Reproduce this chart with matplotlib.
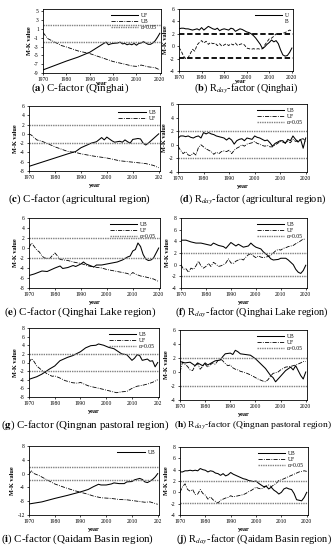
import matplotlib
matplotlib.use("Agg")
import matplotlib.pyplot as plt
from matplotlib.lines import Line2D

plt.rcParams["font.family"] = ["Liberation Serif", "DejaVu Serif"]
plt.rcParams["mathtext.fontset"] = "stix"
plt.rcParams["axes.unicode_minus"] = False

YEARS = list(range(1970, 2021))

# (a) C-factor (Qinghai)
a_uf_years = [1970, 1975, 1980, 1985, 1990, 1993, 1996, 1997, 1998, 1999, 2000, 2002, 2003, 2004,
              2005, 2006, 2007, 2008, 2009, 2010, 2011, 2012, 2013, 2014, 2015, 2016, 2017, 2018, 2019, 2020]
a_uf = [-8.3, -7.3, -6.3, -5.4, -4.3, -3.3, -2.3, -2.0, -2.6, -2.4, -2.3, -2.2, -2.0, -2.4,
        -2.3, -2.6, -2.4, -2.6, -2.3, -2.7, -2.3, -2.2, -1.9, -2.2, -2.5, -2.5, -2.2, -1.7, -0.9, 0.0]
a_ub_years = [1970, 1972, 1975, 1978, 1980, 1985, 1990, 1995, 2000, 2005, 2008, 2010, 2012, 2015, 2018, 2020]
a_ub = [0.2, -1.2, -2.0, -2.8, -3.1, -4.0, -4.6, -5.5, -6.4, -7.0, -7.4, -7.5, -7.2, -7.6, -7.8, -8.3]

# (b) Rday-factor (Qinghai)
b_ub = [2.8, 2.9, 2.9, 2.8, 2.8, 2.7, 2.6, 2.7, 2.8, 2.6,
        3.0, 2.6, 2.9, 3.2, 3.0, 2.8, 2.7, 2.9, 2.5, 2.7,
        2.8, 2.7, 2.6, 2.9, 2.8, 2.4, 2.6, 2.8, 2.7, 2.5,
        2.3, 2.2, 2.0, 1.7, 1.3, 0.8, 0.3, -0.4, -0.1, 0.3,
        0.6, 1.0, 0.7, 0.9, 0.4, -0.6, -1.4, -1.6, -1.5, -1.0,
        -0.3]
b_uf = [-0.2, -0.8, -1.6, -2.0, -1.9, -1.2, -0.5, -0.8, 0.2, 0.6,
        0.9, 0.5, 0.8, 0.3, 0.6, 0.4, 0.5, 0.1, 0.4, 0.0,
        0.2, 0.4, 0.1, 0.4, 0.2, 0.5, 0.1, 0.3, 0.4, 0.2,
        -0.3, -0.4, -0.5, -0.4, -0.5, -0.4, -0.5, -0.4, 0.2, 0.7,
        1.2, 1.3, 1.6, 2.0, 1.8, 2.0, 2.1, 2.2, 2.4, 2.6,
        2.5]

# (c) C-factor (agricultural region)
c_ub_years = [1970, 1975, 1980, 1985, 1988, 1990, 1994, 1996, 1998, 1999, 2000, 2002, 2003, 2005,
              2006, 2007, 2008, 2009, 2010, 2012, 2013, 2014, 2015, 2016, 2017, 2019, 2020]
c_ub = [-7.0, -6.1, -5.2, -4.3, -3.8, -3.0, -2.0, -1.7, -0.8, -1.3, -0.7, -1.5, -1.8, -1.6,
        -1.8, -1.3, -1.7, -2.0, -1.2, -1.0, -1.1, -2.0, -2.4, -2.0, -1.5, -0.5, 0.0]
c_uf_years = [1970, 1971, 1973, 1975, 1978, 1980, 1982, 1985, 1988, 1990, 1995, 2000, 2005, 2010, 2015, 2018, 2020]
c_uf = [0.0, -0.3, -1.3, -1.6, -2.3, -2.8, -3.2, -3.8, -4.0, -4.3, -4.8, -5.2, -5.8, -6.1, -6.4, -6.8, -7.3]

# (d) Rday-factor (agricultural region)
d_ub = [1.0, 1.3, 1.3, 1.2, 1.3, 1.1, 1.0, 1.2, 1.3, 1.0,
        1.8, 1.6, 1.8, 1.6, 1.5, 1.3, 1.2, 1.1, 1.0, 0.7,
        1.0, 0.7, 0.1, 0.6, 0.8, 0.9, 0.6, 1.0, 0.9, 0.8,
        1.3, 1.1, 1.0, 0.8, 0.6, 0.7, 0.3, -0.2, 0.2, 0.4,
        0.6, 0.6, 0.2, 0.8, 0.6, 1.3, 0.8, 0.4, 0.8, -0.5,
        1.0]
d_uf = [-0.2, -0.8, -1.3, -1.0, -1.5, -1.6, -1.2, -1.5, -0.4, 0.0,
        -0.3, -0.6, -0.8, -1.0, -1.4, -1.1, -1.3, -1.0, -0.9, -1.0,
        -0.8, -1.3, -0.8, -0.5, -0.3, 0.0, -0.2, 0.1, 0.2, 0.3,
        0.5, 0.2, 0.1, -0.1, -0.2, -0.1, -0.3, -0.3, 0.0, 0.2,
        0.5, 0.4, 0.3, 0.5, 0.3, 0.8, 0.5, 0.6, 0.8, 0.9,
        0.5]

# (e) C-factor (Qinghai Lake region)
e_ub_years = [1970, 1972, 1975, 1977, 1980, 1982, 1983, 1985, 1987, 1988, 1990, 1991, 1992, 1994, 1995,
              1996, 1998, 2000, 2002, 2004, 2006, 2008, 2009, 2010, 2011, 2012, 2013, 2014, 2015, 2016,
              2017, 2018, 2019, 2020]
e_ub = [-5.5, -5.2, -4.6, -4.7, -4.0, -3.6, -4.1, -3.9, -3.5, -3.7, -3.2, -2.8, -3.2, -3.6, -3.8,
        -3.4, -3.4, -3.2, -3.0, -2.8, -2.4, -1.8, -1.6, -0.6, -0.3, 1.0, 0.3, -1.3, -2.2, -2.5,
        -2.4, -2.0, -1.0, 0.0]
e_uf_years = [1970, 1971, 1972, 1973, 1974, 1975, 1976, 1978, 1979, 1980, 1981, 1982, 1985, 1987, 1990,
              1993, 1995, 1998, 2000, 2003, 2005, 2008, 2009, 2010, 2011, 2013, 2015, 2018, 2020]
e_uf = [0.1, 1.0, 0.3, -0.4, -0.8, -1.6, -2.0, -2.1, -1.5, -1.0, -1.6, -2.3, -2.5, -2.8, -3.1,
        -3.6, -3.8, -4.0, -4.3, -4.6, -4.8, -5.1, -5.4, -4.9, -5.2, -5.6, -5.8, -6.2, -6.7]

# (f) Rday-factor (Qinghai Lake region)
f_ub_years = [1970, 1972, 1974, 1976, 1978, 1980, 1982, 1983, 1985, 1987, 1988, 1990, 1991, 1992, 1993,
              1995, 1997, 1998, 1999, 2000, 2002, 2003, 2005, 2006, 2007, 2009, 2010, 2012, 2013, 2015,
              2016, 2017, 2018, 2019, 2020]
f_ub = [4.2, 4.2, 3.9, 3.7, 3.7, 3.5, 3.3, 3.7, 3.3, 3.1, 2.8, 3.8, 3.5, 3.2, 3.5,
        3.0, 3.2, 3.7, 3.3, 3.0, 2.7, 2.2, 1.5, 1.0, 0.8, 0.9, 1.1, 1.1, 0.8, 0.0,
        -0.8, -1.3, -1.5, -1.0, -0.1]
f_uf = [0.0, -0.8, -0.7, -1.3, -0.6, -0.8, -0.2, 0.6, -0.2, -0.6,
        -0.3, 0.2, -0.3, 0.4, 0.1, -0.3, -0.2, 0.0, 0.3, 1.0,
        0.3, 0.2, 0.6, 0.8, 1.0, 0.8, 1.3, 1.7, 1.9, 1.5,
        1.2, 1.5, 1.3, 1.2, 1.3, 1.4, 1.6, 2.0, 2.4, 2.6,
        2.5, 2.8, 2.9, 3.1, 3.2, 3.3, 3.6, 3.8, 4.1, 4.4,
        4.3]

# (g) C-factor (Qingnan pastoral region)
g_ub_years = [1970, 1973, 1975, 1978, 1980, 1982, 1985, 1987, 1990, 1992, 1994, 1996, 1997, 1999, 2001,
              2003, 2005, 2006, 2008, 2010, 2011, 2012, 2013, 2014, 2016, 2017, 2018, 2019, 2020]
g_ub = [-3.9, -3.3, -2.7, -1.5, -0.8, 0.4, 1.2, 1.6, 2.5, 3.4, 3.9, 4.0, 4.3, 4.0, 3.5,
        3.2, 2.4, 2.0, 1.8, 0.5, 1.0, 1.8, 1.6, 0.5, 0.8, 0.3, 0.4, -1.0, 0.0]
g_uf_years = [1970, 1971, 1972, 1973, 1975, 1977, 1979, 1980, 1982, 1984, 1987, 1989, 1990, 1991, 1993,
              1995, 1998, 2000, 2002, 2004, 2006, 2008, 2010, 2012, 2014, 2016, 2018, 2020]
g_uf = [0.0, 0.9, 0.2, -0.8, -1.8, -2.6, -3.2, -3.1, -3.6, -4.2, -4.7, -4.8, -4.6, -4.9, -5.4,
        -5.7, -6.1, -6.4, -6.7, -7.0, -6.8, -6.7, -6.0, -5.5, -5.3, -5.0, -4.6, -4.0]

# (h) Rday-factor (Qingnan pastoral region)
h_ub_years = [1970, 1972, 1974, 1976, 1977, 1979, 1980, 1981, 1983, 1984, 1986, 1987, 1988, 1990, 1991,
              1992, 1993, 1994, 1996, 1998, 2000, 2002, 2004, 2005, 2006, 2007, 2008, 2009, 2010, 2012,
              2014, 2015, 2016, 2017, 2018, 2019, 2020]
h_ub = [1.5, 1.3, 1.4, 0.9, 1.3, 0.9, 1.3, 1.0, 1.4, 1.6, 1.7, 2.2, 2.6, 2.7, 2.5,
        3.1, 2.9, 2.6, 2.5, 2.4, 1.9, 1.2, 0.5, 0.0, -0.5, -0.8, -1.4, -1.0, -0.6, 0.2,
        0.7, 0.3, 0.9, 0.2, -0.5, -1.0, 0.0]
h_uf_years = [1970, 1971, 1972, 1973, 1974, 1975, 1976, 1977, 1978, 1979, 1980, 1981, 1982, 1983, 1984,
              1985, 1986, 1987, 1988, 1989, 1990, 1991, 1992, 1993, 1994, 1996, 1998, 2000, 2001, 2003,
              2004, 2005, 2006, 2007, 2008, 2009, 2010, 2012, 2014, 2016, 2018, 2019, 2020]
h_uf = [0.0, 1.4, 1.1, 0.8, 0.3, 0.2, 0.9, 1.2, 0.4, 0.8, 1.1, 0.7, 1.0, 1.3, 1.1,
        1.6, 1.9, 1.6, 1.2, 0.9, 1.0, 0.6, 0.4, 0.3, 0.1, -0.1, -0.4, -0.8, -1.0, -1.3,
        -1.4, -1.1, -0.6, -0.2, -0.1, 0.0, 0.3, 0.7, 0.8, 1.0, 1.3, 1.5, 1.5]

# (i) C-factor (Qaidam Basin region)
i_ub_years = [1970, 1975, 1980, 1985, 1990, 1993, 1995, 1997, 1998, 2000, 2002, 2003, 2005, 2007, 2008,
              2010, 2011, 2012, 2013, 2014, 2015, 2016, 2017, 2018, 2019, 2020]
i_ub = [-8.8, -8.2, -7.2, -6.3, -5.3, -4.6, -3.8, -3.1, -3.3, -3.3, -3.0, -2.7, -2.9, -2.9, -2.4,
        -2.3, -1.8, -1.6, -1.4, -1.7, -2.4, -2.6, -2.2, -1.7, -1.0, 0.0]
i_uf_years = [1970, 1971, 1972, 1974, 1976, 1978, 1980, 1983, 1985, 1988, 1990, 1993, 1995, 1998, 2000,
              2002, 2005, 2008, 2010, 2013, 2015, 2017, 2020]
i_uf = [-0.1, 0.8, 0.0, -0.6, -1.4, -2.2, -3.0, -3.8, -4.3, -5.0, -5.4, -6.0, -6.5, -7.0, -7.1,
        -7.2, -7.5, -7.6, -7.8, -8.1, -8.3, -8.2, -8.9]

# (j) Rday-factor (Qaidam Basin region)
j_ub = [3.6, 3.6, 3.8, 3.8, 3.9, 3.8, 3.9, 3.8, 4.2, 4.0,
        3.9, 3.6, 3.8, 3.7, 3.4, 3.3, 3.0, 3.3, 2.9, 3.1,
        3.5, 3.2, 3.0, 2.8, 2.6, 2.4, 2.3, 2.1, 2.0, 1.9,
        2.0, 1.6, 1.3, 1.0, 1.1, 0.6, 0.9, 0.4, 0.1, -0.3,
        0.0, 0.6, 0.8, 0.6, 0.5, -0.2, -1.3, -1.4, -1.5, -0.9,
        0.0]
j_uf = [0.0, 1.0, 1.5, 0.5, 0.2, 0.5, -0.4, -0.3, 0.5, -0.2,
        -0.5, -1.2, -0.8, -1.3, -1.6, -1.9, -1.4, -1.2, -1.0, -0.9,
        -0.6, -0.8, -0.7, -0.6, -0.5, -0.4, -0.2, 0.1, 0.3, 0.6,
        0.9, 0.7, 0.6, 0.8, 1.1, 1.3, 1.0, 1.3, 1.6, 2.1,
        2.2, 2.4, 2.6, 2.8, 3.0, 3.2, 3.4, 3.6, 3.7, 3.8,
        3.7]

XTICKS = [1970, 1980, 1990, 2000, 2010, 2020]
XLABELS = ["1970", "1980", "1990", "2000", "2010", "2020"]
XLABELS_CUT = ["1970", "1980", "1990", "2000", "2010", "202"]
SIG = 1.96

W, H = 335, 550
fig = plt.figure(figsize=(W / 100, H / 100), dpi=100)

SOLID = dict(color="black", lw=0.75, ls="-")
DASHDOT = dict(color="black", lw=0.6, ls=(0, (5, 1.5, 1, 1.5)))
DOTTED = dict(color="#808080", lw=1.0, ls=(0, (1, 0.7)))
THICKDASH = dict(color="black", lw=1.3, ls=(0, (3, 1.5)))


def make_axes(x0, y0, x1, y1):
    return fig.add_axes([x0 / W, 1 - y1 / H, (x1 - x0) / W, (y1 - y0) / H])


def style(ax, ylim, yticks, xlabels, xlabel_pos=None):
    ax.set_xlim(1970, 2020.5)
    ax.set_ylim(*ylim)
    ax.set_yticks(yticks)
    ax.set_xticks(XTICKS)
    ax.set_xticklabels(xlabels)
    for s in ax.spines.values():
        s.set_linewidth(0.6)
    ax.tick_params(labelsize=4, length=1.5, width=0.5, pad=1.5)
    ax.set_ylabel("M-K value", fontsize=4.5, fontweight="bold", labelpad=1.5)
    if xlabel_pos is None:
        ax.set_xlabel("year", fontsize=4.5, fontweight="bold", labelpad=2)
    else:
        ax.text(xlabel_pos, -0.17, "year", transform=ax.transAxes, fontsize=4.3,
                fontweight="bold", ha="center", va="center")


def sig_lines(ax, st=DOTTED):
    ax.axhline(SIG, **st)
    ax.axhline(-SIG, **st)


def legend(ax, handles):
    ax.legend(handles=handles, loc="upper right", fontsize=4, frameon=False,
              handlelength=5, handletextpad=0.5, labelspacing=0.15, borderaxespad=0.3)


def h_line(label, st):
    return Line2D([], [], label=label, **st)


# (a)
ax = make_axes(43, 9, 161, 73)
ax.plot(a_uf_years, a_uf, **SOLID)
ax.plot(a_ub_years, a_ub, **DASHDOT)
sig_lines(ax)
style(ax, (-9, 5.5), list(range(-9, 6, 2)), XLABELS, xlabel_pos=0.5)
legend(ax, [h_line("UF", SOLID), h_line("UB", DASHDOT), h_line("α=0.05", DOTTED)])

# (b)
ax = make_axes(179, 9, 293, 71)
ax.plot(YEARS, b_ub, **SOLID)
ax.plot(YEARS, b_uf, color="black", lw=0.6, ls=(0, (4, 2)))
sig_lines(ax, THICKDASH)
style(ax, (-4, 6), list(range(-4, 7, 2)), XLABELS, xlabel_pos=0.54)
legend(ax, [h_line("U", SOLID), Line2D([], [], color="none", label="B")])

# (c)
ax = make_axes(29, 106, 160, 171)
ax.plot(c_ub_years, c_ub, **SOLID)
ax.plot(c_uf_years, c_uf, **DASHDOT)
sig_lines(ax)
style(ax, (-8, 6), list(range(-8, 7, 2)), XLABELS_CUT)
legend(ax, [h_line("UB", SOLID), h_line("UF", DASHDOT)])

# (d)
ax = make_axes(178, 104, 307, 172)
ax.plot(YEARS, d_ub, **SOLID)
ax.plot(YEARS, d_uf, **DASHDOT)
sig_lines(ax)
style(ax, (-4, 6), list(range(-4, 7, 2)), XLABELS)
legend(ax, [h_line("UB", SOLID), h_line("UF", DASHDOT), h_line("α=0.05", DOTTED)])

# (e)
ax = make_axes(29, 218, 160, 288)
ax.plot(e_ub_years, e_ub, **SOLID)
ax.plot(e_uf_years, e_uf, **DASHDOT)
sig_lines(ax)
style(ax, (-8, 6), list(range(-8, 7, 2)), XLABELS)
legend(ax, [h_line("UB", SOLID), h_line("UF", DASHDOT), h_line("α=0.05", DOTTED)])

# (f)
ax = make_axes(181, 218, 307, 288)
ax.plot(f_ub_years, f_ub, **SOLID)
ax.plot(YEARS, f_uf, **DASHDOT)
sig_lines(ax)
style(ax, (-4, 8), list(range(-4, 9, 2)), XLABELS)
legend(ax, [h_line("UB", SOLID), h_line("UF", DASHDOT), h_line("α=0.05", DOTTED)])

# (g)
ax = make_axes(29, 328, 159, 397)
ax.plot(g_ub_years, g_ub, **SOLID)
ax.plot(g_uf_years, g_uf, **DASHDOT)
sig_lines(ax)
style(ax, (-8, 8), list(range(-8, 9, 2)), XLABELS_CUT)
legend(ax, [h_line("UB", SOLID), h_line("UF", DASHDOT), h_line("α=0.05", DOTTED)])

# (h)
ax = make_axes(180, 330, 307, 400)
ax.plot(h_ub_years, h_ub, **SOLID)
ax.plot(h_uf_years, h_uf, **DASHDOT)
sig_lines(ax)
style(ax, (-4, 6), list(range(-4, 7, 2)), XLABELS)
legend(ax, [h_line("UB", SOLID), h_line("UF", DASHDOT), h_line("α=0.05", DOTTED)])

# (i)
ax = make_axes(29, 446, 159, 515)
ax.plot(i_ub_years, i_ub, **SOLID)
ax.plot(i_uf_years, i_uf, **DASHDOT)
sig_lines(ax)
style(ax, (-12, 8), list(range(-12, 9, 4)), XLABELS_CUT)
legend(ax, [h_line("UB", SOLID)])

# (j)
ax = make_axes(180, 447, 308, 515)
ax.plot(YEARS, j_ub, **SOLID)
ax.plot(YEARS, j_uf, **DASHDOT)
sig_lines(ax)
style(ax, (-4, 8), list(range(-4, 9, 2)), XLABELS)
legend(ax, [h_line("UB", SOLID), h_line("UF", DASHDOT), h_line("α=0.05", DOTTED)])

captions = [
    (80, 88, 7.8, r"($\mathbf{a}$) C-factor (Qinghai)"),
    (246, 88, 7.4, r"($\mathbf{b}$) R$_{day}$-factor (Qinghai)"),
    (80, 199, 7.8, r"($\mathbf{c}$) C-factor (agricultural region)"),
    (253, 199, 7.4, r"($\mathbf{d}$) R$_{day}$-factor (agricultural region)"),
    (80, 312, 7.8, r"($\mathbf{e}$) C-factor (Qinghai Lake region)"),
    (252, 312, 7.4, r"($\mathbf{f}$) R$_{day}$-factor (Qinghai Lake region)"),
    (85, 425, 7.8, r"($\mathbf{g}$) C-factor (Qingnan pastoral region)"),
    (253, 425, 6.8, r"($\mathbf{h}$) R$_{day}$-factor (Qingnan pastoral region)"),
    (78, 539, 7.8, r"($\mathbf{i}$) C-factor (Qaidam Basin region)"),
    (254, 539, 7.4, r"($\mathbf{j}$) R$_{day}$-factor (Qaidam Basin region)"),
]
for cx, cy, fs, txt in captions:
    fig.text(cx / W, 1 - cy / H, txt, fontsize=fs, ha="center", va="center")

fig.savefig("out.png", dpi=100)
